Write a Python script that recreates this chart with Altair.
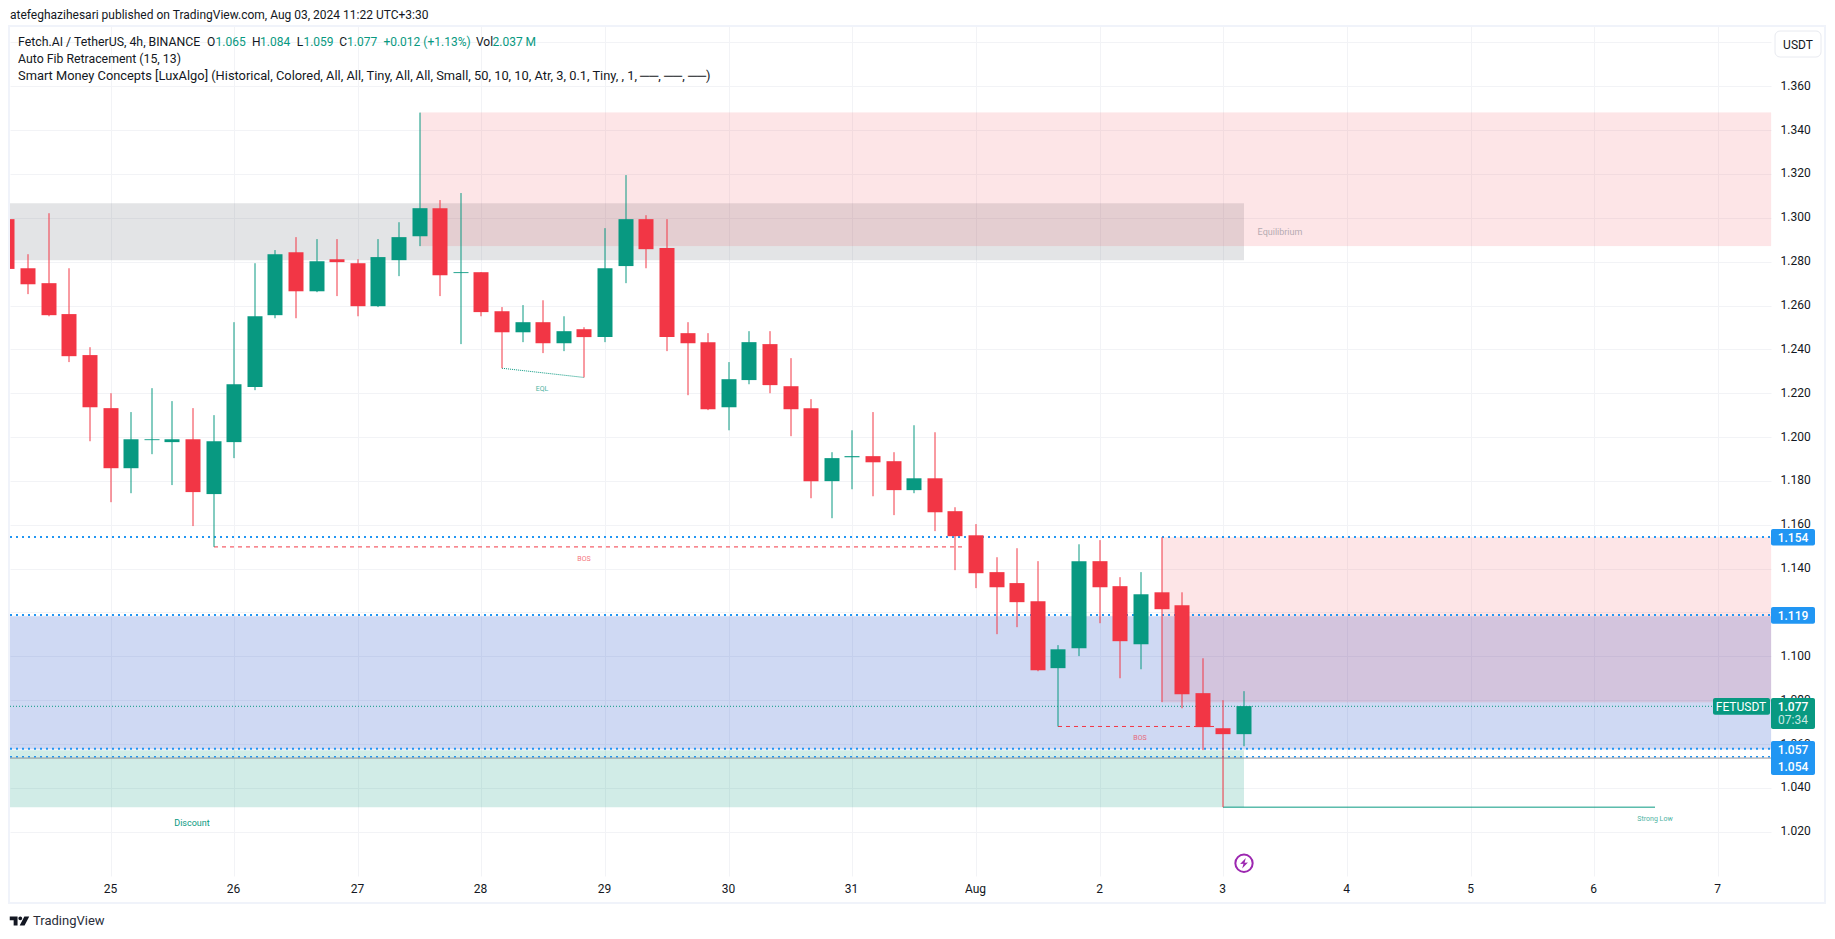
import altair as alt
import pandas as pd

FONT = "Roboto"
GREEN = "#089981"
RED = "#f23645"
BLUE = "#2196f3"
INK = "#131722"

# One 4h candle per entry; first candle sits five bars before the 25th
first_bar = -5
opens = [1.2994,1.2770,1.2702,1.2561,1.2374,1.2132,1.1858,1.1986,1.1977,1.1990,1.1740,1.1977,1.2228,1.2556,1.2843,1.2665,1.2811,1.2793,1.2597,1.2807,1.2916,1.3044,1.2748,1.2752,1.2574,1.2478,1.2524,1.2428,1.2492,1.2456,1.2780,1.2994,1.2862,1.2474,1.2433,1.2136,1.2260,1.2424,1.2232,1.2132,1.1799,1.1908,1.1913,1.1890,1.1758,1.1812,1.1662,1.1552,1.1384,1.1334,1.1251,1.0946,1.1037,1.1434,1.1320,1.1055,1.1292,1.1233,1.0832,1.0672,1.0645]
highs = [1.2994,1.2834,1.3021,1.2770,1.2410,1.2200,1.2114,1.2223,1.2164,1.2132,1.2100,1.2524,1.2793,1.2853,1.2912,1.2903,1.2903,1.2811,1.2903,1.2980,1.3480,1.3081,1.3113,1.2752,1.2593,1.2602,1.2624,1.2551,1.2501,1.2953,1.3195,1.3012,1.2994,1.2524,1.2474,1.2342,1.2483,1.2483,1.2360,1.2173,1.1931,1.2031,1.2114,1.1931,1.2054,1.2022,1.1680,1.1603,1.1452,1.1493,1.1434,1.1051,1.1511,1.1530,1.1361,1.1384,1.1543,1.1292,1.0991,1.0800,1.0841]
lows = [1.2767,1.2652,1.2551,1.2342,1.1981,1.1703,1.1744,1.1922,1.1781,1.1594,1.1499,1.1904,1.2214,1.2542,1.2542,1.2661,1.2643,1.2551,1.2593,1.2734,1.2871,1.2643,1.2424,1.2551,1.2314,1.2433,1.2383,1.2392,1.2272,1.2433,1.2702,1.2770,1.2392,1.2191,1.2123,1.2031,1.2241,1.2200,1.2004,1.1721,1.1630,1.1762,1.1730,1.1644,1.1744,1.1571,1.1393,1.1311,1.1101,1.1133,1.0932,1.0680,1.1001,1.1151,1.0900,1.0941,1.0791,1.0763,1.0572,1.0312,1.0590]
closes = [1.2767,1.2697,1.2556,1.2369,1.2136,1.1858,1.1990,1.1990,1.1990,1.1749,1.1981,1.2241,1.2551,1.2834,1.2665,1.2802,1.2798,1.2597,1.2821,1.2912,1.3044,1.2738,1.2752,1.2570,1.2478,1.2524,1.2428,1.2483,1.2456,1.2770,1.2994,1.2857,1.2456,1.2428,1.2127,1.2264,1.2433,1.2237,1.2127,1.1799,1.1904,1.1913,1.1885,1.1758,1.1812,1.1657,1.1548,1.1379,1.1315,1.1247,1.0937,1.1032,1.1434,1.1315,1.1069,1.1283,1.1215,1.0827,1.0677,1.0645,1.0773]

# Axes
day_ticks = list(range(14))
day_labels = ["25","26","27","28","29","30","31","Aug","2","3","4","5","6","7"]
price_ticks = [1.02,1.04,1.06,1.08,1.10,1.12,1.14,1.16,1.18,1.20,1.22,1.24,1.26,1.28,1.30,1.32,1.34,1.36,1.38]
x_domain = [-0.8128, 13.4289]
y_domain = [0.9998, 1.3875]

# Zones: name, start day, end day, top price, bottom price
zone_rows = [
    ("gray", x_domain[0], 9.1667, 1.3067, 1.2807, "#737882", 0.2),
    ("green", x_domain[0], 9.1667, 1.0572, 1.0312, GREEN, 0.19),
    ("blue", x_domain[0], x_domain[1], 1.1183, 1.0576, "#1446c8", 0.2),
    ("red1", 2.5, x_domain[1], 1.3480, 1.2872, RED, 0.12),
    ("red2", 8.5, x_domain[1], 1.1543, 1.0791, RED, 0.12),
]
level_prices = [1.1544, 1.1188, 1.0578, 1.0542]
level_widths = [2, 2, 2, 1.5]
last_price = 1.0772

W, H = 1761, 850
X0, Y0 = 10, 26  # page position of the plot area

x_scale = alt.Scale(domain=x_domain, nice=False, zero=False, round=True, padding=0)
y_scale = alt.Scale(domain=y_domain, nice=False, zero=False, padding=0)
x_axis = alt.Axis(values=day_ticks, labelExpr="%s[datum.value]" % str(day_labels), grid=True, gridColor="#f2f3f6", gridWidth=1,
                  ticks=False, domain=False, labelColor=INK, labelFont=FONT, labelFontSize=12, labelPadding=7, labelOffset=-1, labelAngle=0, labelFlush=False, labelOverlap=False)
y_axis = alt.Axis(orient="right", values=price_ticks, labelExpr="datum.value > 1.37 ? '' : format(datum.value, '.3f')", grid=True, gridColor="#f2f3f6", gridWidth=1,
                  ticks=False, domain=False, labelColor=INK, labelFont=FONT, labelFontSize=12, labelPadding=9, labelOffset=-1, labelOverlap=False, labelFlush=False)


def xq(field="x"):
    return alt.X(f"{field}:Q", scale=x_scale, axis=x_axis, title=None)


def yq(field="y"):
    return alt.Y(f"{field}:Q", scale=y_scale, axis=y_axis, title=None)


df = pd.DataFrame({
    "x": [(first_bar + i) / 6 for i in range(len(opens))],
    "o": opens, "h": highs, "l": lows, "c": closes,
})
df["col"] = [GREEN if c > o else RED for c, o in zip(closes, opens)]
colr = alt.Color("col:N", scale=None)

layers = []

# zones
for name, x1, x2, top, bot, colour, op in zone_rows:
    z = pd.DataFrame({"x": [x1], "x2": [x2], "y": [top], "y2": [bot]})
    kw = {"stroke": colour, "strokeOpacity": 0.18, "strokeWidth": 1} if name != "gray" and name != "green" else {}
    layers.append(alt.Chart(z).mark_rect(color=colour, opacity=op, **kw).encode(
        x=xq(), x2="x2:Q", y=yq(), y2="y2:Q"))

# levels
for p, w in zip(level_prices, level_widths):
    d = pd.DataFrame({"x": [x_domain[0]], "x2": [x_domain[1]], "y": [p]})
    layers.append(alt.Chart(d).mark_rule(color=BLUE, strokeWidth=w, strokeDash=[2, 4]).encode(x=xq(), x2="x2:Q", y=yq()))
layers.append(alt.Chart(pd.DataFrame({"x": [x_domain[0]], "x2": [x_domain[1]], "y": [1.0536]})).mark_rule(color="#787b86", strokeWidth=1, opacity=0.8).encode(x=xq(), x2="x2:Q", y=yq()))
layers.append(alt.Chart(pd.DataFrame({"x": [x_domain[0]], "x2": [x_domain[1]], "y": [last_price]})).mark_rule(color=GREEN, strokeWidth=1, strokeDash=[1, 2]).encode(x=xq(), x2="x2:Q", y=yq()))

# structure lines
struct = pd.DataFrame({"x": [5/6, 46/6], "x2": [6.919, 8.946], "y": [1.1499, 1.0680]})
layers.append(alt.Chart(struct).mark_rule(color=RED, strokeWidth=1, strokeDash=[4, 4]).encode(x=xq(), x2="x2:Q", y=yq()))
layers.append(alt.Chart(pd.DataFrame({"x": [19/6], "x2": [23/6], "y": [1.2314], "y2": [1.2272]})).mark_rule(color=GREEN, strokeWidth=1, strokeDash=[1, 1]).encode(x=xq(), x2="x2:Q", y=yq(), y2="y2:Q"))
layers.append(alt.Chart(pd.DataFrame({"x": [9.0], "x2": [12.49], "y": [1.0312]})).mark_rule(color=GREEN, strokeWidth=1).encode(x=xq(), x2="x2:Q", y=yq()))

# candles
layers.append(alt.Chart(df).mark_rule(strokeWidth=1, clip=True).encode(x=xq(), y=yq("l"), y2="h:Q", color=colr))
layers.append(alt.Chart(df).mark_bar(size=15, clip=True).encode(x=xq(), y=yq("o"), y2="c:Q", color=colr))

# indicator labels
def note(text, x, y, colour, size, op=1.0):
    d = pd.DataFrame({"x": [x], "y": [y], "t": [text]})
    return alt.Chart(d).mark_text(color=colour, fontSize=size, font=FONT, opacity=op, baseline="middle", align="center").encode(x=xq(), y=yq(), text="t:N")

layers += [
    note("Equilibrium", 9.458, 1.2937, "#787b86", 9, 0.55),
    note("EQL", 3.49, 1.2218, GREEN, 7, 0.75),
    note("BOS", 3.826, 1.1445, RED, 7, 0.7),
    note("BOS", 8.323, 1.0626, RED, 7, 0.7),
    note("Discount", 0.659, 1.0241, GREEN, 9),
    note("Strong Low", 12.49, 1.0257, GREEN, 7, 0.75),
]

# price tags (day range, price range)
tag_rows = [
    (13.429, 13.785, 1.1581, 1.1505, BLUE),
    (13.429, 13.785, 1.1225, 1.1149, BLUE),
    (13.429, 13.785, 1.0614, 1.0459, BLUE),
    (13.429, 13.785, 1.0810, 1.0669, GREEN),
    (12.96, 13.421, 1.0810, 1.0734, GREEN),
]
for a, b, t, u, col in tag_rows:
    d = pd.DataFrame({"x": [a], "x2": [b], "y": [t], "y2": [u]})
    layers.append(alt.Chart(d).mark_rect(color=col, cornerRadius=2, clip=False).encode(x=xq(), x2="x2:Q", y=yq(), y2="y2:Q"))
tag_text = [("1.154", 1.1541), ("1.119", 1.1186), ("1.057", 1.0574), ("1.054", 1.0497), ("1.077", 1.0770)]
d = pd.DataFrame({"x": [13.607] * len(tag_text), "y": [r[1] for r in tag_text], "t": [r[0] for r in tag_text]})
layers.append(alt.Chart(d).mark_text(color="white", fontSize=12, font=FONT, fontWeight=500, baseline="middle", align="center").encode(x=xq(), y=yq(), text="t:N"))
layers.append(alt.Chart(pd.DataFrame({"x": [13.607], "y": [1.0708], "t": ["07:34"]})).mark_text(color="#c8e8e1", fontSize=12, font=FONT, baseline="middle", align="center").encode(x=xq(), y=yq(), text="t:N"))
layers.append(alt.Chart(pd.DataFrame({"x": [13.19], "y": [1.0770], "t": ["FETUSDT"]})).mark_text(color="white", fontSize=12, font=FONT, baseline="middle", align="center").encode(x=xq(), y=yq(), text="t:N"))

# lightning badge
badge = pd.DataFrame({"x": [55/6], "y": [1.0056]})
layers.append(alt.Chart(badge).mark_point(shape="circle", size=300, filled=False, stroke="#9c27b0", strokeWidth=2, opacity=1).encode(x=xq(), y=yq()))
layers.append(alt.Chart(badge).mark_point(shape="M0.35,-1 L-0.75,0.15 L-0.1,0.1 L-0.35,1 L0.75,-0.15 L0.1,-0.1 Z", size=110, filled=True, fill="#9c27b0", stroke=None, opacity=1).encode(x=xq(), y=yq()))

# page furniture, placed in page pixels
def box(x1, x2, y1, y2, **kw):
    return alt.Chart(pd.DataFrame({"a": [0]})).mark_rect(clip=False, **kw).encode(
        x=alt.value(x1 - X0), x2=alt.value(x2 - X0), y=alt.value(y1 - Y0), y2=alt.value(y2 - Y0))


def txt(text, x, y, colour=INK, size=12, align="left", **kw):
    return alt.Chart(pd.DataFrame({"a": [0]})).mark_text(text=text, color=colour, fontSize=size, font=FONT, align=align, baseline="middle", clip=False, **kw).encode(
        x=alt.value(x - X0), y=alt.value(y - Y0))


frame = "#f0f3fa"
layers += [
    box(8, 10, 26, 904, color=frame),
    box(8, 1826, 25, 27, color=frame),
    box(1824, 1826, 26, 904, color=frame),
    box(8, 1826, 902, 904, color=frame),
    box(1775, 1821, 31, 57, fill="white", stroke="#e8eaf0", strokeWidth=1, cornerRadius=5),
    txt("USDT", 1798, 44.5, align="center"),
    txt("atefeghazihesari published on TradingView.com, Aug 03, 2024 11:22 UTC+3:30", 10, 15),
    txt("Fetch.AI / TetherUS, 4h, BINANCE", 18, 41.5, size=12.3),
    txt("O", 207, 41.5), txt("1.065", 215.5, 41.5, GREEN),
    txt("H", 252, 41.5), txt("1.084", 260, 41.5, GREEN),
    txt("L", 296.7, 41.5), txt("1.059", 303.4, 41.5, GREEN),
    txt("C", 339.3, 41.5), txt("1.077", 347, 41.5, GREEN),
    txt("+0.012 (+1.13%)", 383.4, 41.5, GREEN),
    txt("Vol", 476, 41.5), txt("2.037 M", 492.5, 41.5, GREEN),
    txt("Auto Fib Retracement (15, 13)", 18, 59, size=12.3),
    txt("Smart Money Concepts [LuxAlgo] (Historical, Colored, All, All, Tiny, All, All, Small, 50, 10, 10, Atr, 3, 0.1, Tiny, , 1, \u2500\u2500, \u2500\u2500, \u2500\u2500)", 18, 76, size=12.85),
    txt("TradingView", 33, 921, "#2a2e39", 13),
]
logo = "M-1,-0.47 L-0.2,-0.47 L-0.2,0.47 L-0.6,0.47 L-0.6,-0.08 L-1,-0.08 Z M-0.12,-0.27 A0.2,0.2 0 1 1 0.28,-0.27 A0.2,0.2 0 1 1 -0.12,-0.27 Z M1,-0.47 L0.52,0.47 L0.02,0.47 L0.5,-0.47 Z"
layers.append(alt.Chart(pd.DataFrame({"a": [0]})).mark_point(shape=logo, size=380, filled=True, fill="#131722", stroke=None, opacity=1, clip=False).encode(
    x=alt.value(19.5 - X0), y=alt.value(921 - Y0)))

chart = alt.layer(*layers).properties(
    width=W, height=H,
    padding={"left": 2, "top": 18, "right": 56, "bottom": 54},
    autosize=alt.AutoSizeParams(type="none"),
    background="white",
).configure_view(stroke=None)

chart.save("out.html", embed_options={"renderer": "svg", "actions": False})
